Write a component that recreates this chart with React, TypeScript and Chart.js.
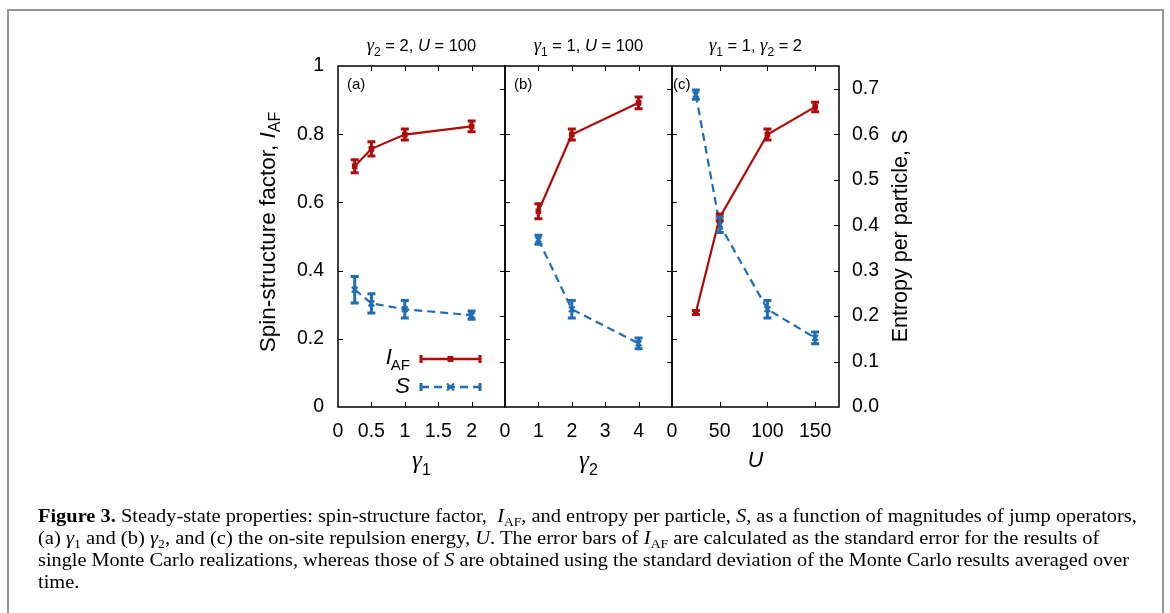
import React, { useEffect, useLayoutEffect, useRef } from 'react';
import { Chart, registerables } from 'chart.js';

Chart.register(...registerables);

// ---------- data ----------
const gamma1 = [0.25, 0.5, 1, 2];
const iafA = [0.706, 0.757, 0.799, 0.823];
const iafAErr = [0.019, 0.021, 0.016, 0.016];
const sA = [0.258, 0.228, 0.215, 0.202];
const sAErr = [0.029, 0.021, 0.019, 0.009];
const xTicksA = [0, 0.5, 1, 1.5, 2];
const xTickLabelsA = ['0', '0.5', '1', '1.5', '2'];

const gamma2 = [1, 2, 4];
const iafB = [0.574, 0.799, 0.892];
const iafBErr = [0.022, 0.016, 0.017];
const sB = [0.368, 0.215, 0.14];
const sBErr = [0.01, 0.019, 0.012];
const xTicksB = [0, 1, 2, 3, 4];
const xTickLabelsB = ['0', '1', '2', '3', '4'];

const uVals = [25, 50, 100, 150];
const iafC = [0.277, 0.556, 0.799, 0.88];
const iafCErr = [0.006, 0.01, 0.016, 0.014];
const sC = [0.687, 0.401, 0.215, 0.152];
const sCErr = [0.01, 0.017, 0.019, 0.013];
const xTicksC = [0, 50, 100, 150];
const xTickLabelsC = ['0', '50', '100', '150'];

const yTicksLeft = [0, 0.2, 0.4, 0.6, 0.8, 1];
const yTickLabelsLeft = ['0', '0.2', '0.4', '0.6', '0.8', '1'];
const yTicksRight = [0, 0.1, 0.2, 0.3, 0.4, 0.5, 0.6, 0.7];
const yTickLabelsRight = ['0.0', '0.1', '0.2', '0.3', '0.4', '0.5', '0.6', '0.7'];

// ---------- style / layout ----------
const W = 1170;
const H = 613;
const SANS = '"Liberation Sans", Arial, Helvetica, sans-serif';
const SERIF = '"Liberation Serif", "Times New Roman", serif';
const RED = '#b00b0b';
const BLUE = '#1f6db3';
const AREA_TOP = 66;
const AREA_BOTTOM = 407;
const X_AXIS_H = 50;
const Y_AXIS_W = 60;
const TICK_FONT = { family: SANS, size: 19.5 };

type PanelCfg = {
  left: number; right: number; xMax: number;
  xTicks: number[]; xLabels: string[];
  x: number[]; iaf: number[]; iafErr: number[]; s: number[]; sErr: number[];
  showLeft: boolean; showRight: boolean; legend: boolean;
};

const panels: PanelCfg[] = [
  { left: 338, right: 505, xMax: 2.5, xTicks: xTicksA, xLabels: xTickLabelsA, x: gamma1, iaf: iafA, iafErr: iafAErr, s: sA, sErr: sAErr, showLeft: true, showRight: false, legend: true },
  { left: 505, right: 672, xMax: 5, xTicks: xTicksB, xLabels: xTickLabelsB, x: gamma2, iaf: iafB, iafErr: iafBErr, s: sB, sErr: sBErr, showLeft: false, showRight: false, legend: false },
  { left: 672, right: 839, xMax: 175, xTicks: xTicksC, xLabels: xTickLabelsC, x: uVals, iaf: iafC, iafErr: iafCErr, s: sC, sErr: sCErr, showLeft: false, showRight: true, legend: false },
];

function drawMarker(ctx: CanvasRenderingContext2D, style: string, x: number, y: number, color: string) {
  ctx.save();
  ctx.setLineDash([]);
  if (style === 'rect') {
    ctx.fillStyle = color;
    ctx.fillRect(x - 3, y - 3, 6, 6);
  } else {
    ctx.strokeStyle = color;
    ctx.lineWidth = 2.2;
    ctx.beginPath();
    ctx.moveTo(x - 3.5, y - 3.5); ctx.lineTo(x + 3.5, y + 3.5);
    ctx.moveTo(x - 3.5, y + 3.5); ctx.lineTo(x + 3.5, y - 3.5);
    ctx.stroke();
  }
  ctx.restore();
}

const framePlugin = {
  id: 'frameTicksErr',
  afterDatasetsDraw(chart: any) {
    const { ctx, chartArea: a, scales } = chart;
    const xs = scales.x;
    ctx.save();
    // error bars
    chart.data.datasets.forEach((ds: any) => {
      const ys = scales[ds.yAxisID];
      ctx.strokeStyle = ds.borderColor;
      ctx.setLineDash([]);
      ctx.lineWidth = 3;
      ctx.beginPath();
      ds.data.forEach((pt: any, j: number) => {
        const e = ds.errorBars[j];
        const px = xs.getPixelForValue(pt.x);
        const y1 = ys.getPixelForValue(pt.y - e);
        const y2 = ys.getPixelForValue(pt.y + e);
        ctx.moveTo(px, y1); ctx.lineTo(px, y2);
        ctx.moveTo(px - 4, y1); ctx.lineTo(px + 4, y1);
        ctx.moveTo(px - 4, y2); ctx.lineTo(px + 4, y2);
      });
      ctx.stroke();
    });
    // frame
    ctx.strokeStyle = '#000';
    ctx.lineWidth = 1.5;
    ctx.strokeRect(a.left, a.top, a.right - a.left, a.bottom - a.top);
    const TL = 5;
    ctx.lineWidth = 1;
    ctx.beginPath();
    xs.ticks.forEach((t: any) => {
      const px = Math.round(xs.getPixelForValue(t.value)) + 0.5;
      if (px <= a.left + 2 || px >= a.right - 2) return;
      ctx.moveTo(px, a.bottom); ctx.lineTo(px, a.bottom - TL);
      ctx.moveTo(px, a.top); ctx.lineTo(px, a.top + TL);
    });
    scales.y.ticks.forEach((t: any) => {
      const py = Math.round(scales.y.getPixelForValue(t.value)) + 0.5;
      if (py <= a.top + 2 || py >= a.bottom - 2) return;
      ctx.moveTo(a.left, py); ctx.lineTo(a.left + TL, py);
    });
    scales.y2.ticks.forEach((t: any) => {
      const py = Math.round(scales.y2.getPixelForValue(t.value)) + 0.5;
      if (py <= a.top + 2 || py >= a.bottom - 2) return;
      ctx.moveTo(a.right, py); ctx.lineTo(a.right - TL, py);
    });
    ctx.stroke();
    ctx.restore();
  },
};

const legendPlugin = {
  id: 'panelLegend',
  afterDraw(chart: any) {
    const { ctx, chartArea: a } = chart;
    const x0 = a.right - 84;
    const x1 = a.right - 25;
    const xm = (x0 + x1) / 2;
    const rowsY = [a.top + 293, a.top + 321];
    ctx.save();
    chart.data.datasets.forEach((ds: any, i: number) => {
      const y = rowsY[i];
      ctx.strokeStyle = ds.borderColor;
      ctx.lineWidth = 2.5;
      ctx.setLineDash(ds.borderDash || []);
      ctx.beginPath();
      ctx.moveTo(x0, y); ctx.lineTo(x1, y);
      ctx.stroke();
      ctx.setLineDash([]);
      ctx.lineWidth = 3;
      ctx.beginPath();
      ctx.moveTo(x0, y - 4); ctx.lineTo(x0, y + 4);
      ctx.moveTo(x1, y - 4); ctx.lineTo(x1, y + 4);
      ctx.stroke();
      drawMarker(ctx, ds.pointStyle, xm, y, ds.borderColor);
    });
    // texts
    ctx.fillStyle = '#000';
    ctx.textBaseline = 'alphabetic';
    ctx.textAlign = 'right';
    ctx.font = `15px ${SANS}`;
    const tx = x0 - 11;
    ctx.fillText('AF', tx, rowsY[0] + 10.5);
    const wAF = ctx.measureText('AF').width;
    ctx.font = `italic 22px ${SANS}`;
    ctx.fillText('I', tx - wAF + 1, rowsY[0] + 4.5);
    ctx.fillText('S', tx, rowsY[1] + 6);
    ctx.restore();
  },
};

function buildChart(canvas: HTMLCanvasElement, p: PanelCfg) {
  const leftW = p.showLeft ? Y_AXIS_W : 0;
  const rightW = p.showRight ? Y_AXIS_W : 0;
  return new Chart(canvas, {
    type: 'line',
    data: {
      datasets: [
        {
          label: 'I_AF',
          data: p.x.map((x, i) => ({ x, y: p.iaf[i] })),
          yAxisID: 'y',
          borderColor: RED,
          backgroundColor: RED,
          borderWidth: 2.2,
          pointStyle: 'rect',
          pointRadius: 4,
          pointBorderWidth: 0,
          errorBars: p.iafErr,
        } as any,
        {
          label: 'S',
          data: p.x.map((x, i) => ({ x, y: p.s[i] })),
          yAxisID: 'y2',
          borderColor: BLUE,
          backgroundColor: BLUE,
          borderWidth: 2.2,
          borderDash: [8, 5],
          pointStyle: 'crossRot',
          pointRadius: 4,
          pointBorderWidth: 2.2,
          errorBars: p.sErr,
        } as any,
      ],
    },
    options: {
      responsive: false,
      animation: false,
      devicePixelRatio: 1,
      events: [],
      layout: {
        padding: {
          left: p.left - leftW,
          right: W - p.right - rightW,
          top: AREA_TOP,
          bottom: H - AREA_BOTTOM - X_AXIS_H,
        },
      },
      plugins: { legend: { display: false }, tooltip: { enabled: false }, title: { display: false } },
      scales: {
        x: {
          type: 'linear',
          min: 0,
          max: p.xMax,
          afterBuildTicks: (s: any) => { s.ticks = p.xTicks.map((v) => ({ value: v })); },
          afterFit: (s: any) => { s.height = X_AXIS_H; },
          ticks: {
            autoSkip: false, maxRotation: 0, padding: 13, color: '#000', font: TICK_FONT,
            callback: (_v: any, i: number) => p.xLabels[i],
          },
          grid: { display: false, drawTicks: false },
          border: { display: false },
        },
        y: {
          type: 'linear',
          position: 'left',
          min: 0,
          max: 1,
          afterBuildTicks: (s: any) => { s.ticks = yTicksLeft.map((v) => ({ value: v })); },
          afterFit: (s: any) => { s.width = leftW; },
          ticks: {
            display: p.showLeft, padding: 14, color: '#000', font: TICK_FONT,
            callback: (_v: any, i: number) => yTickLabelsLeft[i],
          },
          grid: { display: false, drawTicks: false },
          border: { display: false },
        },
        y2: {
          type: 'linear',
          position: 'right',
          min: 0,
          max: 0.75,
          afterBuildTicks: (s: any) => { s.ticks = yTicksRight.map((v) => ({ value: v })); },
          afterFit: (s: any) => { s.width = rightW; },
          ticks: {
            display: p.showRight, padding: 13, color: '#000', font: TICK_FONT,
            callback: (_v: any, i: number) => yTickLabelsRight[i],
          },
          grid: { display: false, drawTicks: false },
          border: { display: false },
        },
      },
    } as any,
    plugins: p.legend ? [framePlugin, legendPlugin] : [framePlugin],
  } as any);
}

const Gam = ({ sub, size, subSize }: { sub: string; size: number; subSize: number }) => (
  <span>
    <i style={{ fontFamily: SERIF, fontSize: size }}>γ</i>
    <span style={{ fontSize: subSize, position: 'relative', top: size * 0.28 }}>{sub}</span>
  </span>
);

const abs = (s: React.CSSProperties): React.CSSProperties => ({ position: 'absolute', ...s });

export default function App() {
  const c1 = useRef<HTMLCanvasElement>(null);
  const c2 = useRef<HTMLCanvasElement>(null);
  const c3 = useRef<HTMLCanvasElement>(null);
  const lineRefs = useRef<(HTMLSpanElement | null)[]>([]);

  useEffect(() => {
    const refs = [c1, c2, c3];
    const charts = panels.map((p, i) => buildChart(refs[i].current as HTMLCanvasElement, p));
    return () => charts.forEach((c) => c.destroy());
  }, []);

  useLayoutEffect(() => {
    const targets = [1099, 1061, 1091];
    let s0 = 1;
    lineRefs.current.forEach((el, i) => {
      if (!el) return;
      const w = el.offsetWidth;
      const s = i < targets.length ? targets[i] / w : s0;
      if (i === 0) s0 = s;
      el.style.transform = `scaleX(${s})`;
    });
  }, []);

  const canvasStyle: React.CSSProperties = { position: 'absolute', left: 0, top: 0, width: W, height: H };
  const titleStyle = (left: number, right: number): React.CSSProperties =>
    abs({ left: left - 20, width: right - left + 40, top: 34, height: 22, lineHeight: '22px', textAlign: 'center', fontFamily: SANS, fontSize: 16.5, whiteSpace: 'nowrap' });
  const xTitleStyle = (left: number, right: number): React.CSSProperties =>
    abs({ left, width: right - left, top: 446, height: 28, lineHeight: '28px', textAlign: 'center', fontFamily: SANS, fontSize: 21.5, whiteSpace: 'nowrap' });
  const panelLabel = (left: number): React.CSSProperties =>
    abs({ left, top: 75, fontFamily: SANS, fontSize: 15, lineHeight: '18px' });
  const capLine = (i: number): React.CSSProperties =>
    abs({ left: 38, top: 505 + i * 22, lineHeight: '22px', whiteSpace: 'nowrap', display: 'inline-block', transformOrigin: 'left center' });
  const capSub: React.CSSProperties = { fontSize: 13, position: 'relative', top: 4 };

  return (
    <div style={abs({ left: 0, top: 0, width: W, height: H, overflow: 'hidden', background: '#fff', color: '#000' })}>
      <div style={abs({ left: 7, top: 9, width: 1157, height: 700, border: '2px solid #969696', boxSizing: 'border-box' })} />
      <canvas ref={c1} width={W} height={H} style={canvasStyle} />
      <canvas ref={c2} width={W} height={H} style={canvasStyle} />
      <canvas ref={c3} width={W} height={H} style={canvasStyle} />

      {/* panel titles */}
      <div style={titleStyle(338, 505)}>
        <Gam sub="2" size={18.5} subSize={12} /> = 2, <i>U</i> = 100
      </div>
      <div style={titleStyle(505, 672)}>
        <Gam sub="1" size={18.5} subSize={12} /> = 1, <i>U</i> = 100
      </div>
      <div style={titleStyle(672, 839)}>
        <Gam sub="1" size={18.5} subSize={12} /> = 1, <Gam sub="2" size={18.5} subSize={12} /> = 2
      </div>

      {/* panel labels */}
      <div style={panelLabel(347)}>(a)</div>
      <div style={panelLabel(514)}>(b)</div>
      <div style={panelLabel(673)}>(c)</div>

      {/* x titles */}
      <div style={xTitleStyle(338, 505)}><Gam sub="1" size={25} subSize={16} /></div>
      <div style={xTitleStyle(505, 672)}><Gam sub="2" size={25} subSize={16} /></div>
      <div style={xTitleStyle(672, 839)}><i>U</i></div>

      {/* y titles */}
      <div style={abs({ left: 118, top: 219, width: 300, height: 26, lineHeight: '26px', textAlign: 'center', fontFamily: SANS, fontSize: 22.5, transform: 'rotate(-90deg)', whiteSpace: 'nowrap' })}>
        Spin-structure factor, <i>I</i><span style={{ fontSize: 16, position: 'relative', top: 5 }}>AF</span>
      </div>
      <div style={abs({ left: 750, top: 223, width: 300, height: 26, lineHeight: '26px', textAlign: 'center', fontFamily: SANS, fontSize: 21.5, transform: 'rotate(-90deg)', whiteSpace: 'nowrap' })}>
        Entropy per particle, S
      </div>

      {/* caption */}
      <div style={abs({ left: 0, top: 0, fontFamily: SERIF, fontSize: 19.5 })}>
        <span ref={(el) => { lineRefs.current[0] = el; }} style={capLine(0)}>
          <b>Figure 3.</b> Steady-state properties: spin-structure factor,&nbsp; <i>I</i><span style={capSub}>AF</span>, and entropy per particle, <i>S</i>, as a function of magnitudes of jump operators,
        </span>
        <span ref={(el) => { lineRefs.current[1] = el; }} style={capLine(1)}>
          (a) <i>γ</i><span style={capSub}>1</span> and (b) <i>γ</i><span style={capSub}>2</span>, and (c) the on-site repulsion energy, <i>U</i>. The error bars of <i>I</i><span style={capSub}>AF</span> are calculated as the standard error for the results of
        </span>
        <span ref={(el) => { lineRefs.current[2] = el; }} style={capLine(2)}>
          single Monte Carlo realizations, whereas those of <i>S</i> are obtained using the standard deviation of the Monte Carlo results averaged over
        </span>
        <span ref={(el) => { lineRefs.current[3] = el; }} style={capLine(3)}>
          time.
        </span>
      </div>
    </div>
  );
}
